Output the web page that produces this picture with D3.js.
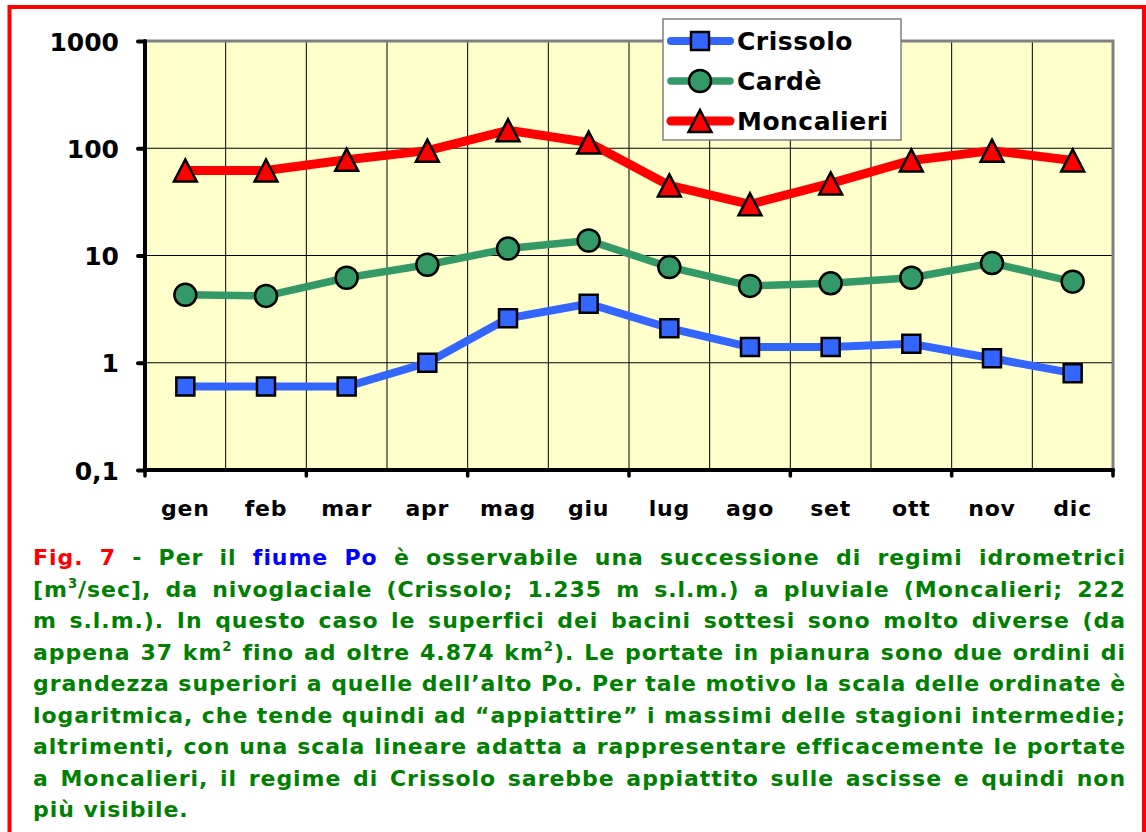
<!DOCTYPE html>
<html>
<head>
<meta charset="utf-8">
<script src="https://cdn.jsdelivr.net/npm/d3@7"></script>
<style>
  body { margin: 0; background: #fff; }
  svg { display: block; font-family: "DejaVu Sans", Verdana, sans-serif; font-weight: bold; }
</style>
</head>
<body>
<div id="chart"></div>
<script>
var width = 1146,
    height = 832,
    margin = {top: 41, left: 145, right: 33, bottom: 362};

var months = ["gen","feb","mar","apr","mag","giu","lug","ago","set","ott","nov","dic"];
var crissolo   = [0.6, 0.6, 0.6, 1.0, 2.6, 3.55, 2.1, 1.4, 1.4, 1.5, 1.1, 0.8];
var carde      = [4.3, 4.2, 6.2, 8.2, 11.6, 13.8, 7.8, 5.2, 5.5, 6.2, 8.5, 5.7];
var moncalieri = [62, 62, 78, 95, 147, 113, 45, 30, 47, 77, 95, 77];
var yTicks = [0.1, 1, 10, 100, 1000];

var seriesNames = ["Crissolo", "Cardè", "Moncalieri"];
var seriesColors = ["#3366ff", "#339966", "#ff0000"];

// caption, one array entry per printed line; ^ marks a superscript char, #r / #b colour a word
var captionLines = [
  "#r:Fig. #r:7 - Per il #b:fiume #b:Po è osservabile una successione di regimi idrometrici",
  "[m^3/sec], da nivoglaciale (Crissolo; 1.235 m s.l.m.) a pluviale (Moncalieri; 222",
  "m s.l.m.). In questo caso le superfici dei bacini sottesi sono molto diverse (da",
  "appena 37 km^2 fino ad oltre 4.874 km^2). Le portate in pianura sono due ordini di",
  "grandezza superiori a quelle dell’alto Po. Per tale motivo la scala delle ordinate è",
  "logaritmica, che tende quindi ad “appiattire” i massimi delle stagioni intermedie;",
  "altrimenti, con una scala lineare adatta a rappresentare efficacemente le portate",
  "a Moncalieri, il regime di Crissolo sarebbe appiattito sulle ascisse e quindi non",
  "più visibile."
];

var plotW = width - margin.left - margin.right,
    plotH = 470 - margin.top;

var svg = d3.select("#chart").append("svg")
  .attr("width", width)
  .attr("height", height);

// red frame
svg.append("rect")
  .attr("x", 9.5).attr("y", 7)
  .attr("width", 1134.5).attr("height", 860)
  .style("fill", "none")
  .style("stroke", "#ff0000")
  .style("stroke-width", 4);

var g = svg.append("g")
  .attr("transform", "translate(" + margin.left + "," + margin.top + ")");

var x = d3.scaleBand().domain(months).range([0, plotW]).padding(0);
var y = d3.scaleLog().domain([0.1, 1000]).range([plotH, 0]);
var cx = function(m) { return x(m) + x.bandwidth() / 2; };

// plot background
g.append("rect")
  .attr("width", plotW).attr("height", plotH)
  .style("fill", "#ffffcc");

// grid
g.selectAll(".hgrid")
  .data([1, 10, 100])
  .enter().append("line")
  .attr("x1", 0).attr("x2", plotW)
  .attr("y1", function(d){ return y(d); })
  .attr("y2", function(d){ return y(d); })
  .style("stroke", "#000").style("stroke-width", 1);

g.selectAll(".vgrid")
  .data(months.slice(1))
  .enter().append("line")
  .attr("x1", function(d){ return x(d); })
  .attr("x2", function(d){ return x(d); })
  .attr("y1", 0).attr("y2", plotH)
  .style("stroke", "#000").style("stroke-width", 1);

// gray top/right border
g.append("path")
  .attr("d", "M0," + y(1000) + "H" + plotW + "V" + plotH)
  .style("fill", "none")
  .style("stroke", "#808080")
  .style("stroke-width", 3);

// y axis
var yAxis = d3.axisLeft(y)
  .tickValues(yTicks)
  .tickSize(7)
  .tickPadding(19)
  .tickFormat(function(d){ return String(d).replace(".", ","); });

var ya = g.append("g").call(yAxis).attr("font-family", null).attr("font-size", null);
ya.select(".domain").remove();
ya.selectAll("line").style("stroke", "#000").style("stroke-width", 4).style("stroke-linecap", "round");
ya.selectAll("text").style("font-size", "25px").style("fill", "#000").attr("dy", "0.36em");

g.append("line")
  .attr("x1", 0).attr("x2", 0).attr("y1", y(1000)).attr("y2", plotH)
  .style("stroke", "#000").style("stroke-width", 4).style("stroke-linecap", "round");

// x axis
g.append("line")
  .attr("x1", 0).attr("x2", plotW).attr("y1", plotH).attr("y2", plotH)
  .style("stroke", "#000").style("stroke-width", 4).style("stroke-linecap", "round");

var tickIdx = d3.range(0, months.length + 1, 2);
g.selectAll(".xtick")
  .data(tickIdx)
  .enter().append("line")
  .attr("x1", function(i){ return i * x.bandwidth(); })
  .attr("x2", function(i){ return i * x.bandwidth(); })
  .attr("y1", plotH).attr("y2", plotH + 6)
  .style("stroke", "#000").style("stroke-width", 3.5).style("stroke-linecap", "round");

g.selectAll(".xlab")
  .data(months)
  .enter().append("text")
  .attr("x", cx)
  .attr("y", plotH + 46)
  .style("text-anchor", "middle")
  .style("font-size", "22px")
  .style("letter-spacing", "0.8px")
  .style("fill", "#000")
  .text(function(d){ return d; });

// marker shapes, triangle centred on its bounding box
var triangleBox = {
  draw: function(context, size) {
    var h = Math.sqrt(size);
    context.moveTo(0, -h / 2);
    context.lineTo(h * 0.52, h / 2);
    context.lineTo(-h * 0.52, h / 2);
    context.closePath();
  }
};
var symbols = [
  d3.symbol().type(d3.symbolSquare).size(18 * 18),
  d3.symbol().type(d3.symbolCircle).size(Math.PI * 11 * 11),
  d3.symbol().type(triangleBox).size(22 * 22)
];
var lineWidths = [8, 7.5, 9];

var series = [crissolo, carde, moncalieri].map(function(vals, k) {
  return {
    name: seriesNames[k],
    color: seriesColors[k],
    values: vals.map(function(v, i){ return {m: months[i], v: v}; })
  };
});

var line = d3.line()
  .x(function(d){ return cx(d.m); })
  .y(function(d){ return y(d.v); });

series.forEach(function(s, k) {
  g.append("path")
    .datum(s.values)
    .attr("d", line)
    .style("fill", "none")
    .style("stroke", s.color)
    .style("stroke-width", lineWidths[k])
    .style("stroke-linejoin", "round");

  g.selectAll(".mk" + k)
    .data(s.values)
    .enter().append("path")
    .attr("d", symbols[k])
    .attr("transform", function(d){ return "translate(" + cx(d.m) + "," + y(d.v) + ")"; })
    .style("fill", s.color)
    .style("stroke", "#000")
    .style("stroke-width", 2.5)
    .style("stroke-linejoin", "miter");
});

// legend
var legend = svg.append("g").attr("transform", "translate(663,19)");
legend.append("rect")
  .attr("width", 238).attr("height", 121)
  .style("fill", "#fff")
  .style("stroke", "#808080")
  .style("stroke-width", 1.5);

seriesNames.forEach(function(name, k) {
  var ly = 22 + k * 40;
  legend.append("line")
    .attr("x1", 8).attr("x2", 67)
    .attr("y1", ly).attr("y2", ly)
    .style("stroke", seriesColors[k])
    .style("stroke-width", lineWidths[k])
    .style("stroke-linecap", "round");
  legend.append("path")
    .attr("d", symbols[k])
    .attr("transform", "translate(37," + ly + ")")
    .style("fill", seriesColors[k])
    .style("stroke", "#000")
    .style("stroke-width", 2.5);
  legend.append("text")
    .attr("x", 74).attr("y", ly + 9)
    .style("font-size", "25px")
    .style("letter-spacing", "0.5px")
    .style("fill", "#000")
    .text(name);
});

// caption, justified line by line
var capLeft = 33, capRight = 1126, capTop = 565, capStep = 31.5, capSize = 22;
var capColors = {r: "#ff0000", b: "#0000ff"};
var cap = svg.append("g").style("font-size", capSize + "px");

var capRows = captionLines.map(function(str, li) {
  var words = str.split(" ");
  var nodes = words.map(function(w) {
    var col = "#008000";
    var m = w.match(/^#(\w):(.*)$/);
    if (m) { col = capColors[m[1]]; w = m[2]; }
    var t = cap.append("text").attr("y", capTop + li * capStep).style("fill", col);
    var parts = w.split("^");
    t.append("tspan").text(parts[0]);
    for (var p = 1; p < parts.length; p++) {
      t.append("tspan").attr("dy", -9).style("font-size", (capSize * 0.6) + "px").text(parts[p].charAt(0));
      if (parts[p].length > 1) t.append("tspan").attr("dy", 9).text(parts[p].slice(1));
    }
    return t;
  });
  return {nodes: nodes, chars: str.replace(/#\w:/g, "").replace(/\^/g, "").length};
});

// widen the letters until the tightest line fills the width with plain spaces
var space = capSize * 0.348, avail = capRight - capLeft;
var ls = d3.min(capRows.slice(0, -1), function(r) {
  var natural = d3.sum(r.nodes, function(t){ return t.node().getComputedTextLength(); }) + space * (r.nodes.length - 1);
  return (avail - natural) / (r.chars - 1);
});
ls = Math.max(0, ls);
cap.style("letter-spacing", ls + "px");

capRows.forEach(function(r, li) {
  var widths = r.nodes.map(function(t){ return t.node().getComputedTextLength(); });
  var total = d3.sum(widths);
  var last = li === capRows.length - 1;
  var gap = last ? space + ls : (avail - total) / (r.nodes.length - 1);
  var pos = capLeft;
  r.nodes.forEach(function(t, i) {
    t.attr("x", pos);
    t.select("tspan").attr("x", pos);
    pos += widths[i] + gap;
  });
});
</script>
</body>
</html>
